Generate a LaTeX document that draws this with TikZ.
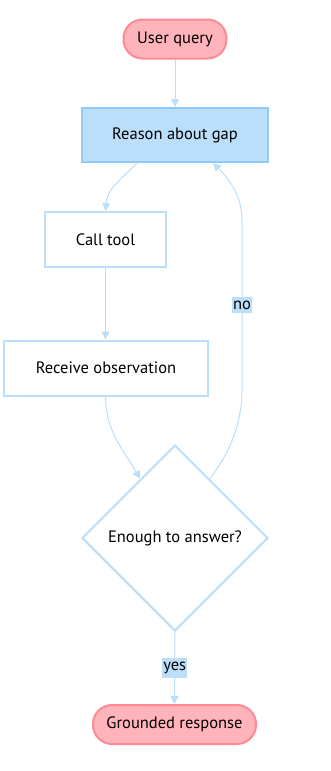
\documentclass[tikz,border=0pt]{standalone}
\usepackage{fontspec}
\setmainfont{PT Sans}
\usetikzlibrary{shapes.geometric,arrows.meta,calc}
\definecolor{pinkfill}{HTML}{FFB3BA}
\definecolor{pinkline}{HTML}{FF8A94}
\definecolor{bluefill}{HTML}{BBDEFB}
\definecolor{blueline}{HTML}{90CAF9}
\definecolor{edgecol}{HTML}{BBDEFB}
\begin{document}
\begin{tikzpicture}[x=1pt,y=-1pt,
  font=\fontsize{16.5}{18}\selectfont,
  term/.style={draw=pinkline, fill=pinkfill, line width=2pt, rounded corners=19pt, minimum height=39pt, inner sep=0pt},
  hi/.style={draw=blueline, fill=bluefill, line width=2pt, minimum height=54pt, minimum width=186pt, inner sep=0pt},
  proc/.style={draw=bluefill, fill=white, line width=2pt, minimum height=55pt, inner sep=0pt},
  dec/.style={diamond, aspect=1, draw=bluefill, fill=white, line width=2pt, minimum width=186pt, minimum height=186pt, inner sep=0pt},
  conn/.style={draw=edgecol, line width=1pt, -{Triangle[length=8pt,width=8pt]}},
  lbl/.style={fill=bluefill, inner xsep=1pt, inner ysep=4pt, font=\fontsize{16.5}{18}\selectfont}]
\useasboundingbox (0,0) rectangle (331,771);
\node[term, minimum width=103pt] (q) at (175,39) {User query};
\node[hi] (r) at (175,135) {Reason about gap};
\node[proc, minimum width=121pt] (c) at (105.5,239.5) {Call tool};
\node[proc, minimum width=204pt] (o) at (106,368) {Receive observation};
\node[dec] (d) at (175,538) {Enough to answer?};
\node[term, minimum width=163pt] (g) at (174.5,724.5) {Grounded response};

\draw[conn] (q.south) -- (r.north);
\draw[conn] ([xshift=-38pt]r.south) .. controls (120,180) and (106,190) .. (106,205) -- (c.north);
\draw[conn] (c.south) -- (o.north -| c.south);
\draw[conn] (o.south -| c.south) .. controls (106,430) and (120,445) .. ($(d.north)!0.37!(d.west)$);
\coordinate (b1) at (242,390);
\coordinate (b2) at (242,220);
\draw[conn] ($(d.north)!0.37!(d.east)$) .. controls (232,450) and (242,420) .. (b1) -- node[lbl] {no} (b2) .. controls (242,195) and (228,178) .. ([xshift=38pt]r.south);
\draw[conn] (d.south) -- node[lbl] {yes} (g.north);
\end{tikzpicture}
\end{document}
